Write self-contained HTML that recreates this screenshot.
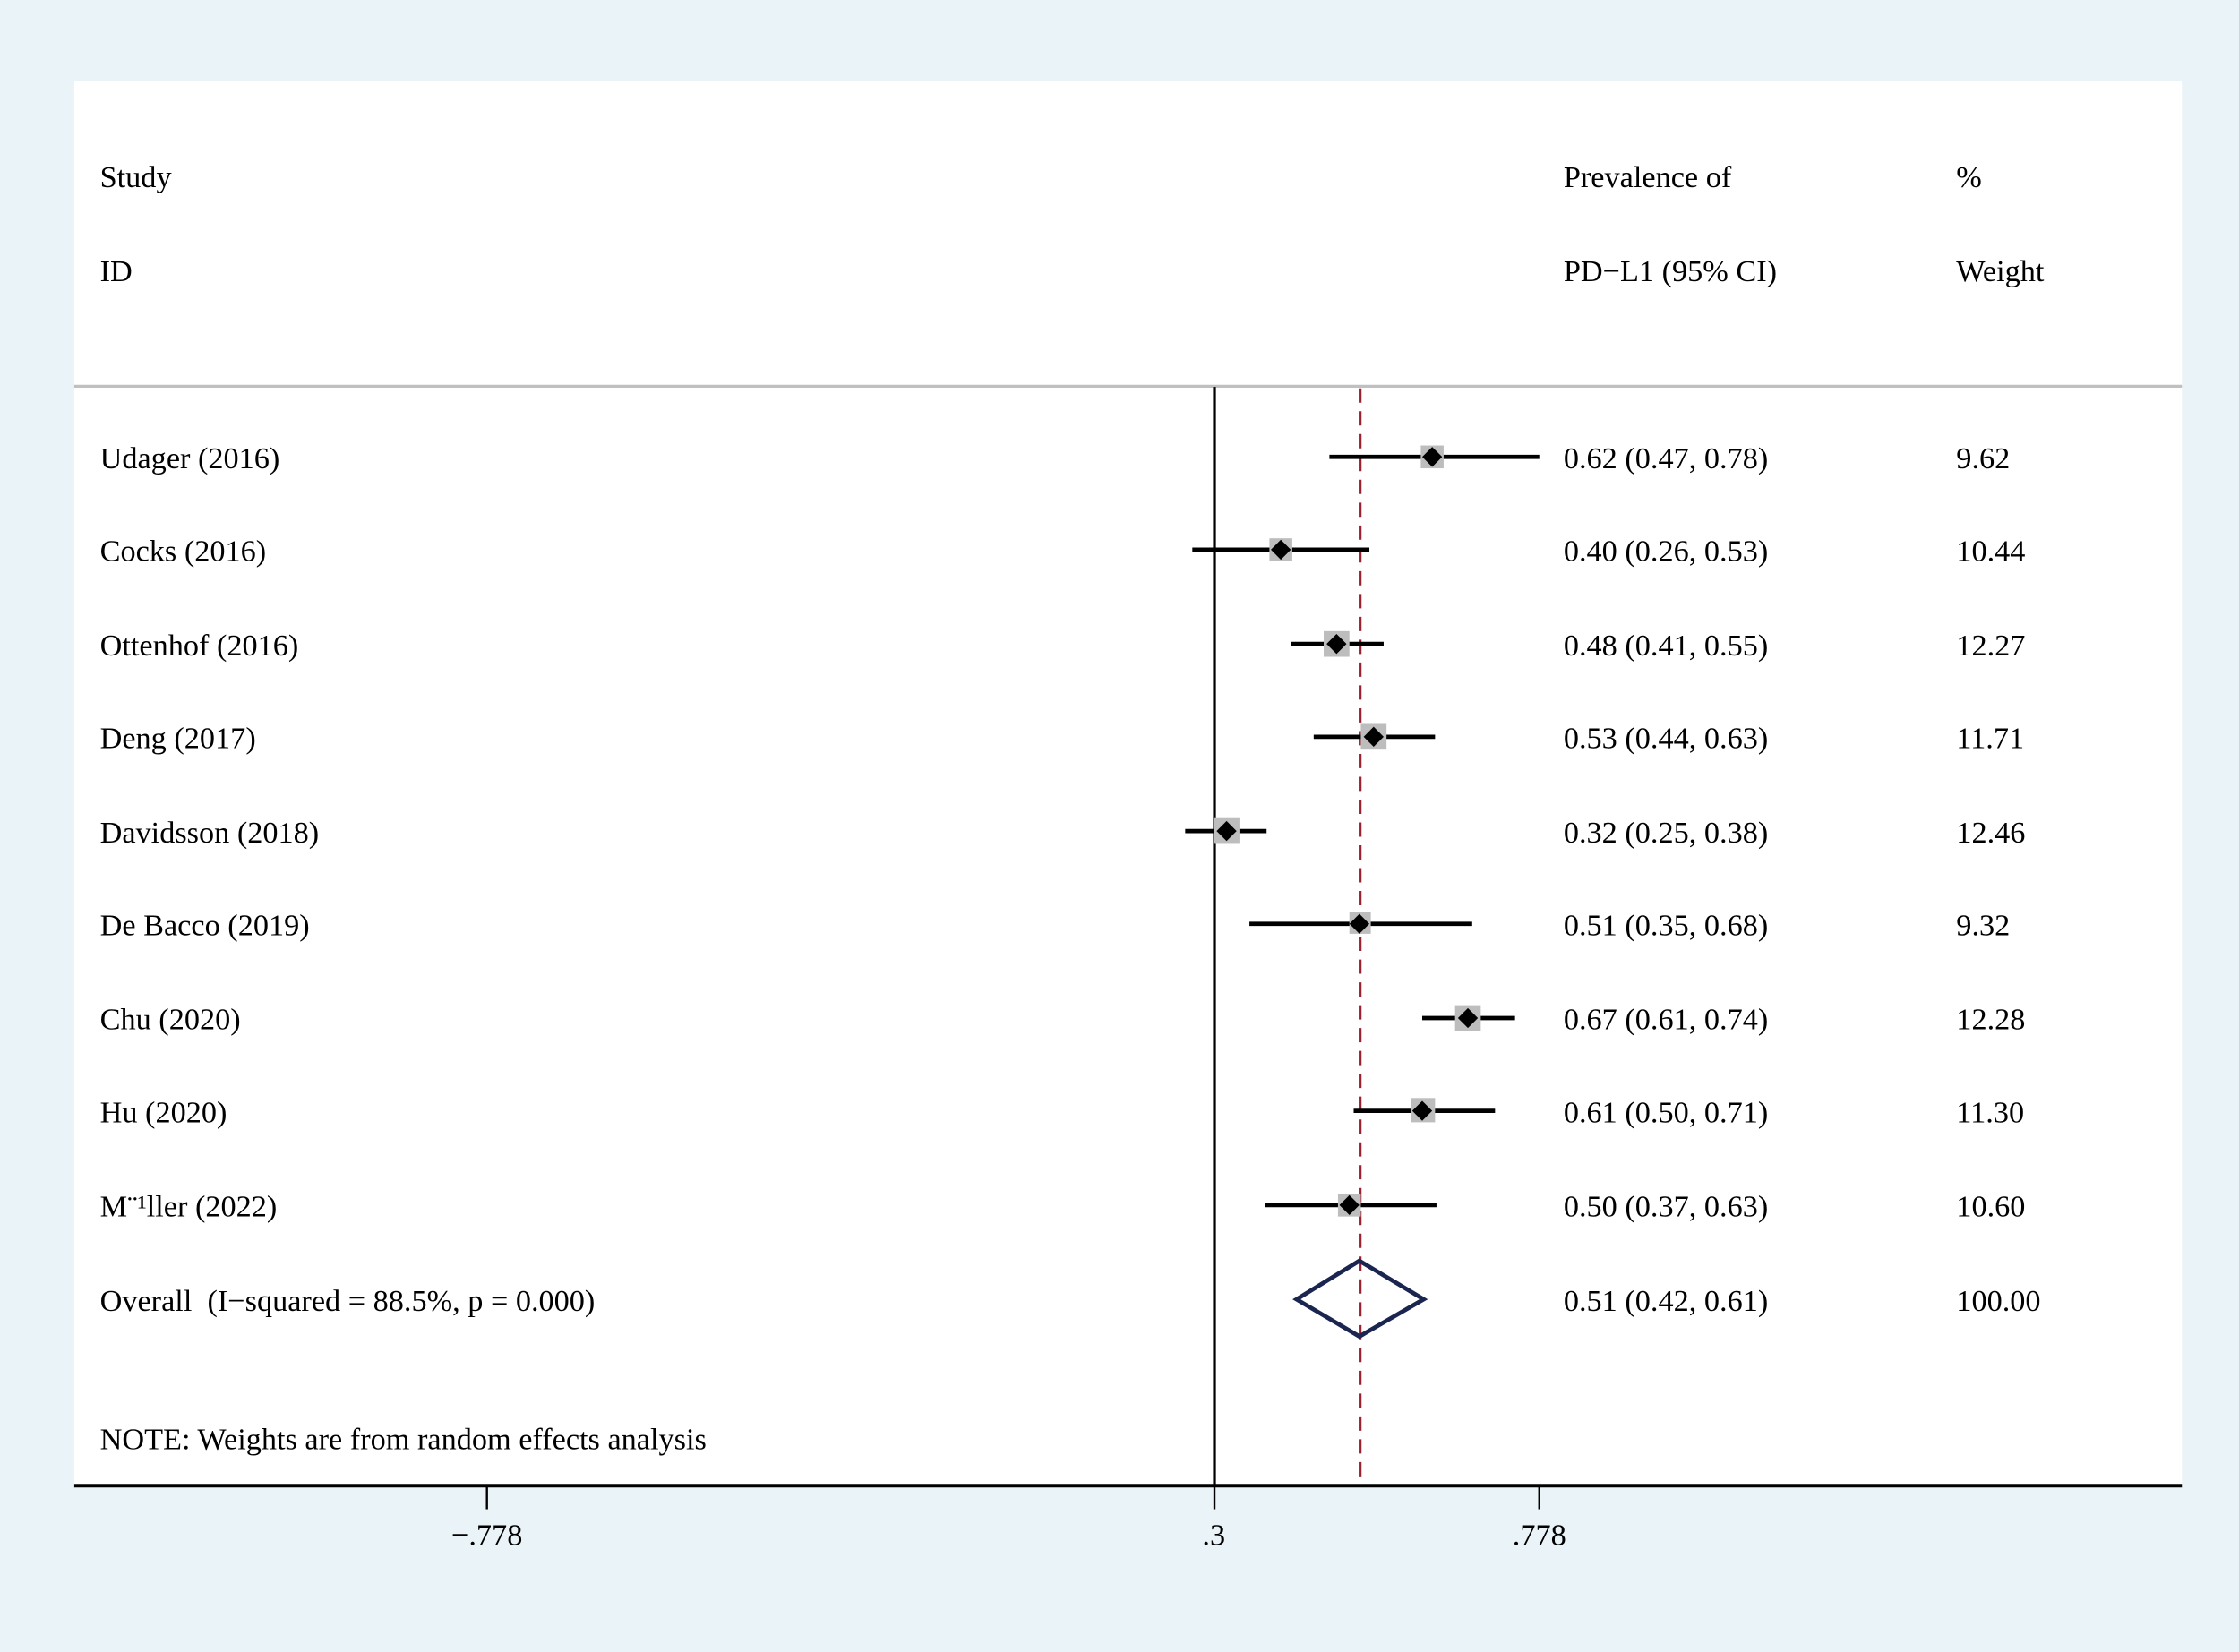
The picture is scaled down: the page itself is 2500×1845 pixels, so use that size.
<!DOCTYPE html>
<html><head><meta charset="utf-8"><style>html,body{margin:0;padding:0;background:#eaf3f7}svg{display:block}</style></head>
<body>
<svg width="2500" height="1845" viewBox="0 0 1568 1157" preserveAspectRatio="none" xmlns="http://www.w3.org/2000/svg" font-family="Liberation Serif, serif" font-size="21.5" fill="#000">
<rect width="1568" height="1157" fill="#eaf3f7"/>
<rect x="52" y="57" width="1476" height="983" fill="#fff"/>
<text x="70" y="131">Study</text>
<text x="70" y="197">ID</text>
<text x="1095" y="131">Prevalence of</text>
<text x="1095" y="197">PD−L1 (95% CI)</text>
<text x="1370" y="131">%</text>
<text x="1370" y="197">Weight</text>
<line x1="52" y1="270.5" x2="1528" y2="270.5" stroke="#c0c0c0" stroke-width="2"/>
<line x1="850.5" y1="271" x2="850.5" y2="1040" stroke="#000" stroke-width="2"/>
<line x1="952.5" y1="272" x2="952.5" y2="1040" stroke="#9b2030" stroke-width="2" stroke-dasharray="10,6"/>
<g stroke="#000" stroke-width="3">
<line x1="931" y1="320" x2="1078" y2="320"/>
<line x1="835" y1="385" x2="959" y2="385"/>
<line x1="904" y1="451" x2="969" y2="451"/>
<line x1="920" y1="516" x2="1005" y2="516"/>
<line x1="830" y1="582" x2="887" y2="582"/>
<line x1="875" y1="647" x2="1031" y2="647"/>
<line x1="996" y1="713" x2="1061" y2="713"/>
<line x1="948" y1="778" x2="1047" y2="778"/>
<line x1="886" y1="844" x2="1006" y2="844"/>
</g>
<g fill="#bdbdbd">
<rect x="995" y="312" width="16" height="16"/>
<rect x="889" y="377" width="16" height="16"/>
<rect x="927" y="442" width="18" height="18"/>
<rect x="953" y="507" width="18" height="18"/>
<rect x="850" y="573" width="18" height="18"/>
<rect x="945" y="639" width="15" height="15"/>
<rect x="1019" y="704" width="18" height="18"/>
<rect x="988" y="769" width="17" height="17"/>
<rect x="937" y="836" width="16" height="16"/>
</g>
<g fill="#000">
<path d="M1003,313 l7,7 l-7,7 l-7,-7z"/>
<path d="M897,378 l7,7 l-7,7 l-7,-7z"/>
<path d="M936,444 l7,7 l-7,7 l-7,-7z"/>
<path d="M962,509 l7,7 l-7,7 l-7,-7z"/>
<path d="M859,575 l7,7 l-7,7 l-7,-7z"/>
<path d="M952,640 l7,7 l-7,7 l-7,-7z"/>
<path d="M1028,706 l7,7 l-7,7 l-7,-7z"/>
<path d="M996,771 l7,7 l-7,7 l-7,-7z"/>
<path d="M945,837 l7,7 l-7,7 l-7,-7z"/>
</g>
<path d="M908,910 L952,883 L997,910 L952,936 Z" fill="none" stroke="#1a2550" stroke-width="3"/>
<g>
<text x="70" y="328">Udager (2016)</text><text x="1095" y="328">0.62 (0.47, 0.78)</text><text x="1370" y="328">9.62</text>
<text x="70" y="393">Cocks (2016)</text><text x="1095" y="393">0.40 (0.26, 0.53)</text><text x="1370" y="393">10.44</text>
<text x="70" y="459">Ottenhof (2016)</text><text x="1095" y="459">0.48 (0.41, 0.55)</text><text x="1370" y="459">12.27</text>
<text x="70" y="524">Deng (2017)</text><text x="1095" y="524">0.53 (0.44, 0.63)</text><text x="1370" y="524">11.71</text>
<text x="70" y="590">Davidsson (2018)</text><text x="1095" y="590">0.32 (0.25, 0.38)</text><text x="1370" y="590">12.46</text>
<text x="70" y="655">De Bacco (2019)</text><text x="1095" y="655">0.51 (0.35, 0.68)</text><text x="1370" y="655">9.32</text>
<text x="70" y="721">Chu (2020)</text><text x="1095" y="721">0.67 (0.61, 0.74)</text><text x="1370" y="721">12.28</text>
<text x="70" y="786">Hu (2020)</text><text x="1095" y="786">0.61 (0.50, 0.71)</text><text x="1370" y="786">11.30</text>
<text x="70" y="852">M¨¹ller (2022)</text><text x="1095" y="852">0.50 (0.37, 0.63)</text><text x="1370" y="852">10.60</text>
<text x="70" y="918" xml:space="preserve">Overall  (I−squared = 88.5%, p = 0.000)</text><text x="1095" y="918">0.51 (0.42, 0.61)</text><text x="1370" y="918">100.00</text>
<text x="70" y="1015">NOTE: Weights are from random effects analysis</text>
</g>
<line x1="52" y1="1040.5" x2="1528" y2="1040.5" stroke="#000" stroke-width="2.5"/>
<g stroke="#000" stroke-width="1.5">
<line x1="341" y1="1041" x2="341" y2="1057"/>
<line x1="850.5" y1="1041" x2="850.5" y2="1057"/>
<line x1="1078" y1="1041" x2="1078" y2="1057"/>
</g>
<g text-anchor="middle">
<text x="341" y="1082">−.778</text>
<text x="850" y="1082">.3</text>
<text x="1078" y="1082">.778</text>
</g>
</svg>
</body></html>
